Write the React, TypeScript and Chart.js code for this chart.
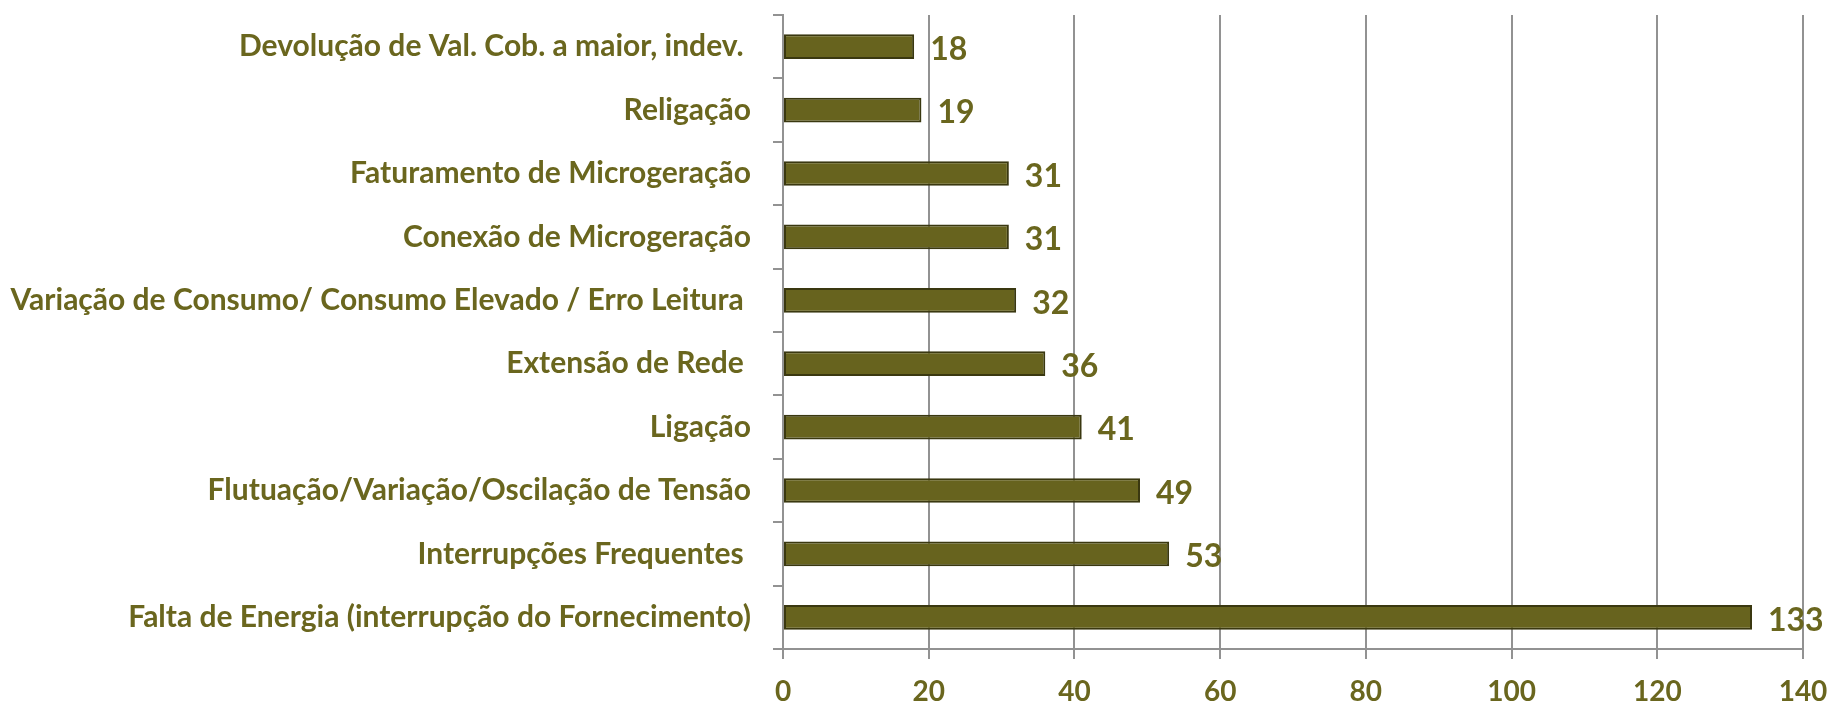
import React, { useEffect, useRef } from "react";
import { Chart, registerables } from "chart.js";

Chart.register(...registerables);

const categories = [
  "Devolução de Val. Cob. a maior, indev. ",
  "Religação",
  "Faturamento de Microgeração",
  "Conexão de Microgeração",
  "Variação de Consumo/ Consumo Elevado / Erro Leitura ",
  "Extensão de Rede ",
  "Ligação",
  "Flutuação/Variação/Oscilação de Tensão",
  "Interrupções Frequentes ",
  "Falta de Energia (interrupção do Fornecimento)",
];
const values = [18, 19, 31, 31, 32, 36, 41, 49, 53, 133];
const xTicks = [0, 20, 40, 60, 80, 100, 120, 140];

const TEXT = "#6A661E";
const FONT = "Lato";

const valueLabels = {
  id: "valueLabels",
  afterDatasetsDraw(chart: any) {
    const ctx = chart.ctx;
    const meta = chart.getDatasetMeta(0);
    ctx.save();
    ctx.fillStyle = TEXT;
    ctx.font = `bold 32px ${FONT}`;
    ctx.textAlign = "left";
    ctx.textBaseline = "middle";
    meta.data.forEach((bar: any, i: number) => {
      ctx.fillText(String(values[i]), bar.x + 16, bar.y + 3);
    });
    ctx.restore();
  },
};

export default function App() {
  const ref = useRef<HTMLCanvasElement>(null);
  useEffect(() => {
    document.body.style.margin = "0";
    const chart = new Chart(ref.current!, {
      type: "bar",
      data: {
        labels: categories,
        datasets: [
          {
            data: values,
            backgroundColor: "#67631E",
            borderColor: "#3A3810",
            borderWidth: 2,
            borderSkipped: false,
            barPercentage: 0.39,
            categoryPercentage: 1,
          },
        ],
      },
      options: {
        indexAxis: "y",
        animation: false,
        responsive: false,
        layout: { padding: { top: 15, right: 26, left: 0, bottom: 0 } },
        plugins: { legend: { display: false }, tooltip: { enabled: false } },
        scales: {
          x: {
            min: 0,
            max: 140,
            afterBuildTicks: (s: any) => {
              s.ticks = xTicks.map((v) => ({ value: v }));
            },
            afterFit: (s: any) => {
              s.height = 54;
              s.paddingLeft = 0;
              s.paddingRight = 0;
            },
            grid: {
              color: "#929292",
              lineWidth: 2,
              tickLength: 10,
              tickColor: "#929292",
            },
            border: { color: "#929292", width: 2 },
            ticks: {
              color: TEXT,
              padding: 16,
              maxRotation: 0,
              font: { family: FONT, size: 28, weight: "bold" },
            },
          },
          y: {
            afterFit: (s: any) => {
              s.width = 783;
              s.paddingTop = 0;
              s.paddingBottom = 0;
            },
            grid: {
              offset: true,
              drawOnChartArea: false,
              tickLength: 10,
              color: "#929292",
              lineWidth: 2,
            },
            border: { color: "#929292", width: 2 },
            ticks: {
              color: TEXT,
              padding: 22,
              autoSkip: false,
              font: { family: FONT, size: 30, weight: "bold" },
            },
          },
        },
      },
      plugins: [valueLabels],
    });
    return () => chart.destroy();
  }, []);
  return (
    <div style={{ width: 1829, height: 703 }}>
      <canvas ref={ref} width={1829} height={703} style={{ display: "block" }} />
    </div>
  );
}
